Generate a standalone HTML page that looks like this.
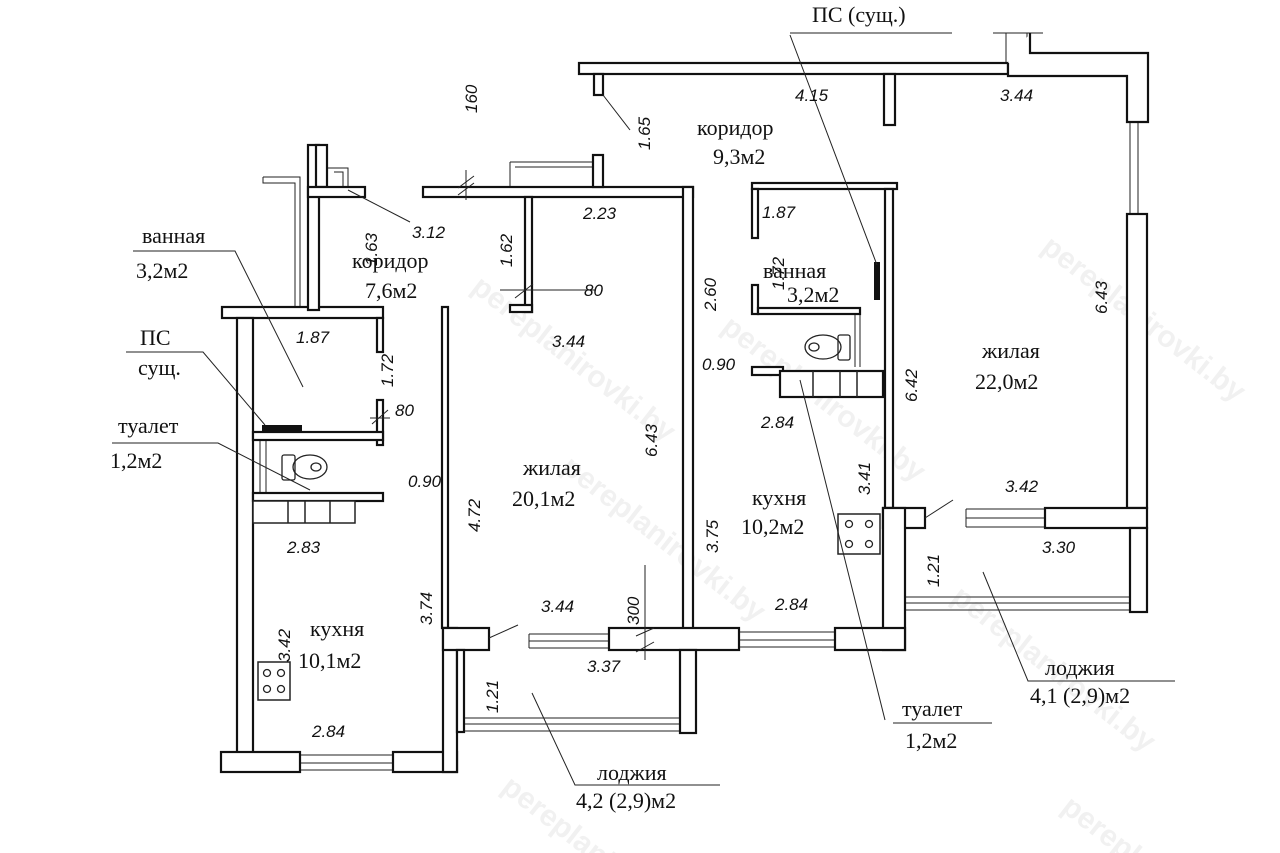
<!DOCTYPE html>
<html><head><meta charset="utf-8"><style>
html,body{margin:0;padding:0;background:#fff;overflow:hidden;width:1280px;height:853px}
svg{display:block}
.r{font-family:"Liberation Serif",serif;font-size:22px;fill:#111}
.d{font-family:"Liberation Sans",sans-serif;font-style:italic;font-size:17px;fill:#111}
.w{font-family:"Liberation Sans",sans-serif;font-weight:bold;font-size:30px;fill:#f1f1f1}
.ln{stroke:#222;stroke-width:1;fill:none}
</style></head><body>
<svg width="1280" height="853" viewBox="0 0 1280 853" xmlns="http://www.w3.org/2000/svg">
<g>
<text class="w" transform="translate(470,290) rotate(38)">pereplanirovki.by</text>
<text class="w" transform="translate(560,470) rotate(38)">pereplanirovki.by</text>
<text class="w" transform="translate(720,330) rotate(38)">pereplanirovki.by</text>
<text class="w" transform="translate(1040,250) rotate(38)">pereplanirovki.by</text>
<text class="w" transform="translate(500,790) rotate(38)">pereplanirovki.by</text>
<text class="w" transform="translate(950,600) rotate(38)">pereplanirovki.by</text>
<text class="w" transform="translate(1060,810) rotate(38)">pereplanirovki.by</text>
</g>

<g class="ln" stroke-width="1.2">
<path d="M263,177 H300 V307 M263,177 V183 H295 V307"/>
<path d="M328,168 H348 V187 M334,172 H343 V187"/>
<path d="M510,162 H593 V187 M510,162 V187 M515,167 H593"/>
<path d="M1130,122 V214 M1138,122 V214"/>
<path d="M966,509 H1045 M966,527 H1045 M966,518 H1045 M966,509 V527"/>
<path d="M905,597 H1130 M905,603 H1130 M905,610 H1130"/>
<path d="M300,755 H393 M300,763 H393 M300,770 H393"/>
<path d="M464,718 H680 M464,724 H680 M464,731 H680"/>
<path d="M529,634 H609 M529,641 H609 M529,648 H609 M529,634 V648"/>
<path d="M739,632 H835 M739,640 H835 M739,647 H835"/>
<path d="M993,33 H1043 M1006,33 V74 M1027,33 V53"/>
<path d="M855,314 V367 M860,314 V367"/>
<path d="M260,440 V495 M266,440 V495"/>
<path d="M1140,532 L1144,545 V598 L1140,600" />
<path d="M688,655 L692,668 V712 L688,716"/>
</g>

<g fill="#fff" stroke="#111" stroke-width="2.2">
<rect x="222" y="307" width="161" height="11"/>
<rect x="237" y="318" width="16" height="447"/>
<rect x="308" y="145" width="11" height="165"/>
<rect x="316" y="145" width="11" height="42"/>
<rect x="308" y="187" width="57" height="10"/>
<rect x="377" y="318" width="6" height="34"/>
<rect x="377" y="400" width="6" height="45"/>
<rect x="253" y="432" width="130" height="8"/>
<rect x="253" y="493" width="130" height="8"/>
<rect x="442" y="307" width="6" height="321"/>
<rect x="221" y="752" width="79" height="20"/>
<rect x="393" y="752" width="64" height="20"/>
<rect x="443" y="628" width="14" height="144"/>
<rect x="443" y="628" width="46" height="22"/>
<rect x="457" y="650" width="7" height="82"/>
<rect x="423" y="187" width="270" height="10"/>
<rect x="593" y="155" width="10" height="32"/>
<rect x="525" y="197" width="7" height="115"/>
<rect x="510" y="305" width="22" height="7"/>
<rect x="683" y="187" width="10" height="465"/>
<rect x="609" y="628" width="130" height="22"/>
<rect x="680" y="650" width="16" height="83"/>
<rect x="579" y="63" width="429" height="11"/>
<rect x="594" y="74" width="9" height="21"/>
<rect x="884" y="74" width="11" height="51"/>
<path d="M1008,63 V76 H1127 V122 H1148 V53 H1030 V33"/>
<rect x="752" y="183" width="145" height="6"/>
<rect x="752" y="189" width="6" height="49"/>
<rect x="752" y="285" width="6" height="29"/>
<rect x="758" y="308" width="102" height="6"/>
<rect x="752" y="367" width="31" height="8"/>
<rect x="780" y="371" width="103" height="26"/>
<rect x="885" y="189" width="8" height="319"/>
<rect x="1127" y="214" width="20" height="294"/>
<rect x="1045" y="508" width="102" height="20"/>
<rect x="1130" y="528" width="17" height="84"/>
<rect x="883" y="508" width="42" height="20"/>
<rect x="883" y="508" width="22" height="142"/>
<rect x="835" y="628" width="70" height="22"/>
</g>
<g fill="#fff" stroke="#222" stroke-width="1.5">
<rect x="253" y="501" width="102" height="22"/>
<line x1="288" y1="501" x2="288" y2="523"/><line x1="305" y1="501" x2="305" y2="523"/><line x1="330" y1="501" x2="330" y2="523"/>
<line x1="813" y1="371" x2="813" y2="397"/><line x1="840" y1="371" x2="840" y2="397"/><line x1="857" y1="371" x2="857" y2="397"/>
<rect x="258" y="662" width="32" height="38"/>
<rect x="838" y="514" width="42" height="40"/>
</g>
<g fill="none" stroke="#222" stroke-width="1.3">
<circle cx="267" cy="673" r="3.5"/><circle cx="281" cy="673" r="3.5"/><circle cx="267" cy="689" r="3.5"/><circle cx="281" cy="689" r="3.5"/>
<circle cx="849" cy="524" r="3.5"/><circle cx="869" cy="524" r="3.5"/><circle cx="849" cy="544" r="3.5"/><circle cx="869" cy="544" r="3.5"/>
<rect x="282" y="455" width="13" height="25" rx="2"/><ellipse cx="310" cy="467" rx="17" ry="12"/><ellipse cx="316" cy="467" rx="5" ry="4"/>
<rect x="838" y="335" width="12" height="25" rx="2"/><ellipse cx="823" cy="347" rx="18" ry="12"/><ellipse cx="814" cy="347" rx="5" ry="4"/>
</g>
<rect x="262" y="425" width="40" height="6" fill="#111"/>
<rect x="874" y="262" width="6" height="38" fill="#111"/>

<g class="ln">
<path d="M133,251 H235 L303,387"/>
<path d="M126,352 H203 L265,425"/>
<path d="M112,443 H218 L310,490"/>
<path d="M348,190 L410,222"/>
<path d="M603,95 L630,130"/>
<path d="M790,33 H952 M790,35 L877,265"/>
<path d="M800,380 L885,720 M893,723 H992"/>
<path d="M983,572 L1028,681 H1175"/>
<path d="M532,693 L575,785 H720"/>
<path d="M489,638 L518,625"/>
<path d="M925,518 L953,500"/>
<path d="M466,170 V200 M458,195 L474,183 M458,188 L474,176"/>
<path d="M500,290 H596 M515,298 L533,284"/>
<path d="M370,418 H390 M372,424 L388,410"/>
<path d="M645,565 V660 M636,636 L654,628 M636,652 L654,642"/>
</g>

<g class="r">
<text x="142" y="243">ванная</text><text x="136" y="278">3,2м2</text>
<text x="140" y="345">ПС</text><text x="138" y="375">сущ.</text>
<text x="118" y="433">туалет</text><text x="110" y="468">1,2м2</text>
<text x="352" y="268">коридор</text><text x="365" y="298">7,6м2</text>
<text x="523" y="475">жилая</text><text x="512" y="506">20,1м2</text>
<text x="310" y="636">кухня</text><text x="298" y="668">10,1м2</text>
<text x="697" y="135">коридор</text><text x="713" y="164">9,3м2</text>
<text x="763" y="278">ванная</text><text x="787" y="302">3,2м2</text>
<text x="982" y="358">жилая</text><text x="975" y="389">22,0м2</text>
<text x="752" y="505">кухня</text><text x="741" y="534">10,2м2</text>
<text x="812" y="22">ПС (сущ.)</text>
<text x="1045" y="675">лоджия</text><text x="1030" y="703">4,1 (2,9)м2</text>
<text x="902" y="716">туалет</text><text x="905" y="748">1,2м2</text>
<text x="597" y="780">лоджия</text><text x="576" y="808">4,2 (2,9)м2</text>
</g>
<g class="d">
<text x="296" y="343">1.87</text>
<text x="408" y="487">0.90</text>
<text x="287" y="553">2.83</text>
<text x="312" y="737">2.84</text>
<text x="412" y="238">3.12</text>
<text x="583" y="219">2.23</text>
<text x="552" y="347">3.44</text>
<text x="541" y="612">3.44</text>
<text x="587" y="672">3.37</text>
<text x="702" y="370">0.90</text>
<text x="762" y="218">1.87</text>
<text x="761" y="428">2.84</text>
<text x="775" y="610">2.84</text>
<text x="795" y="101">4.15</text>
<text x="1000" y="101">3.44</text>
<text x="1005" y="492">3.42</text>
<text x="1042" y="553">3.30</text>
<text x="584" y="296">80</text>
<text x="395" y="416">80</text>
<text transform="translate(377,266) rotate(-90)">1.63</text>
<text transform="translate(393,387) rotate(-90)">1.72</text>
<text transform="translate(512,267) rotate(-90)">1.62</text>
<text transform="translate(477,113) rotate(-90)">160</text>
<text transform="translate(650,150) rotate(-90)">1.65</text>
<text transform="translate(716,311) rotate(-90)">2.60</text>
<text transform="translate(657,457) rotate(-90)">6.43</text>
<text transform="translate(480,532) rotate(-90)">4.72</text>
<text transform="translate(432,625) rotate(-90)">3.74</text>
<text transform="translate(290,662) rotate(-90)">3.42</text>
<text transform="translate(498,713) rotate(-90)">1.21</text>
<text transform="translate(639,625) rotate(-90)">300</text>
<text transform="translate(718,553) rotate(-90)">3.75</text>
<text transform="translate(784,290) rotate(-90)">1.72</text>
<text transform="translate(917,402) rotate(-90)">6.42</text>
<text transform="translate(870,495) rotate(-90)">3.41</text>
<text transform="translate(1107,314) rotate(-90)">6.43</text>
<text transform="translate(939,587) rotate(-90)">1.21</text>
</g>
</svg>
</body></html>
